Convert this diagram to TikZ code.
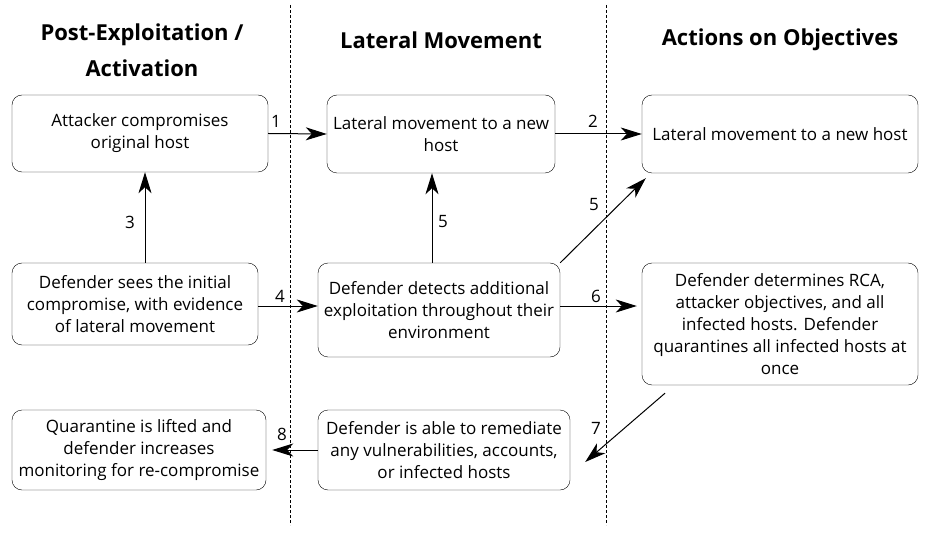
\documentclass[tikz,border=0pt]{standalone}
\usepackage{fontspec}
\setmainfont{Open Sans}
\usetikzlibrary{arrows.meta}
\begin{document}
\begin{tikzpicture}[x=1pt,y=-1pt,
    box/.style={draw, rounded corners=10pt, align=center, inner sep=2pt,
        font=\fontsize{17}{22}\selectfont},
    phase/.style={align=center, font=\fontsize{22}{36}\selectfont\bfseries},
    arr/.style={-{Stealth[length=21pt,width=13pt,inset=6pt]}, line width=1pt},
    lbl/.style={font=\fontsize{17}{18}\selectfont},
    sep/.style={densely dashed, thin}]
    \useasboundingbox (0,0) rectangle (941,534);
    % column separators
    \draw[sep] (290,5) -- (290,525);
    \draw[sep] (606,5) -- (606,525);
    % headings
    \node[phase] (hpost) at (142,50) {Post-Exploitation /\\Activation};
    \node[phase] (hlat) at (441,40) {Lateral Movement};
    \node[phase] (hact) at (780,40) {Actions on Objectives};
    % boxes
    \node[box, minimum width=256, minimum height=77] (orig) at (140,133.5)
        {Attacker compromises\\original host};
    \node[box, minimum width=228, minimum height=78] (lat) at (441,134)
        {Lateral movement to a new\\host};
    \node[box, minimum width=276, minimum height=78] (newhost) at (780,134)
        {Lateral movement to a new host};
    \node[box, minimum width=246, minimum height=82] (sees) at (135,304)
        {Defender sees the initial\\compromise, with evidence\\of lateral movement};
    \node[box, minimum width=242, minimum height=94] (detects) at (439,310)
        {Defender detects additional\\exploitation throughout their\\environment};
    \node[box, minimum width=276, minimum height=122] (rca) at (780,324)
        {Defender determines RCA,\\attacker objectives, and all\\infected hosts. Defender\\quarantines all infected hosts at\\once};
    \node[box, minimum width=254, minimum height=80] (lifted) at (139,450)
        {Quarantine is lifted and\\defender increases\\monitoring for re-compromise};
    \node[box, minimum width=252, minimum height=80] (remed) at (444,450)
        {Defender is able to remediate\\any vulnerabilities, accounts,\\or infected hosts};
    % connectors
    \draw[arr] (orig.east) -- (lat.west);
    \node[lbl] at (276,121) {1};
    \draw[arr] (lat.east) -- (newhost.west);
    \node[lbl] at (593,121) {2};
    \draw[arr] ([xshift=10]sees.north) -- ([xshift=5]orig.south);
    \node[lbl] at (130,222) {3};
    \draw[arr] ([yshift=-2]sees.east) -- ([yshift=4]detects.west);
    \node[lbl] at (280,296) {4};
    \draw[arr] ([xshift=-7]detects.north) -- ([xshift=-9]lat.south);
    \node[lbl] at (443,222) {5};
    \draw[arr] (detects.north east) -- ([xshift=4,yshift=-5]newhost.south west);
    \node[lbl] at (594,205) {5};
    \draw[arr] ([yshift=4]detects.east) -- ([yshift=18,xshift=-5]rca.west);
    \node[lbl] at (596,296) {6};
    \draw[arr] ([xshift=-115,yshift=-8]rca.south) -- ([xshift=15,yshift=-12]remed.east);
    \node[lbl] at (596,428) {7};
    \draw[arr] (remed.west) -- ([xshift=6]lifted.east);
    \node[lbl] at (282,434) {8};
\end{tikzpicture}
\end{document}
